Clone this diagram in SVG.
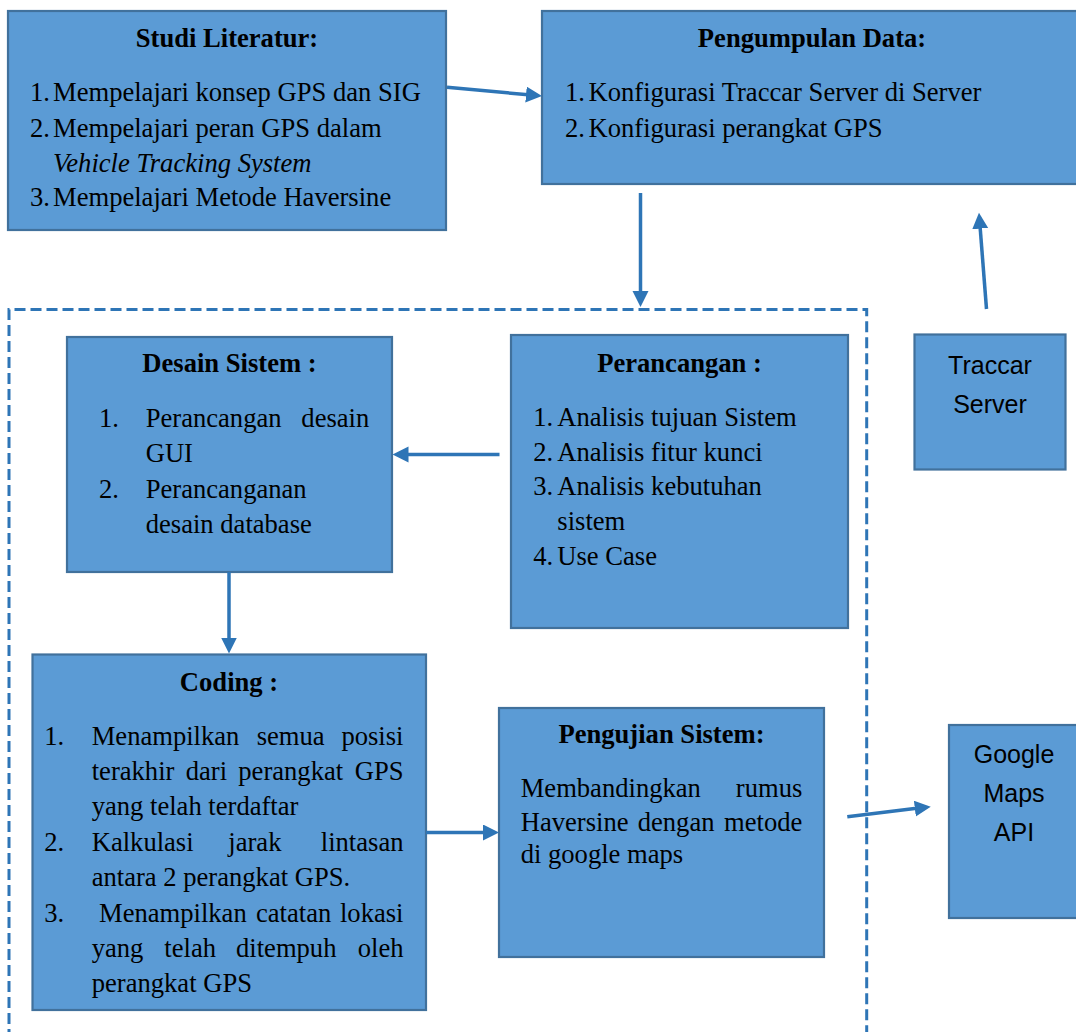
<svg xmlns="http://www.w3.org/2000/svg" width="1076" height="1032" viewBox="0 0 1076 1032">
<style>
.box{fill:#5b9bd5;stroke:#41719c;stroke-width:2.2}
.t{font-family:"Liberation Serif","Times New Roman",serif;font-size:26.6px;fill:#000}
.b{font-weight:bold}
.c{text-anchor:middle}
.e{text-anchor:end}
.s{font-family:"Liberation Sans",Arial,sans-serif;font-size:25px;fill:#000;text-anchor:middle}
.arr{stroke:#2e75b6;stroke-width:3.5;fill:none;marker-end:url(#ah)}
.dash{stroke:#2e75b6;stroke-width:3;fill:none;stroke-dasharray:11 5}
</style>
<defs>
<marker id="ah" markerUnits="userSpaceOnUse" markerWidth="17" markerHeight="17" refX="8" refY="8" orient="auto" viewBox="0 0 17 17">
<path d="M0,0 L16,8 L0,16 z" fill="#2e75b6"/>
</marker>
</defs>
<rect width="1076" height="1032" fill="#fff"/>

<g id="dashed-region">
<path class="dash" d="M9,1040 V309.5 H866.7 V1040"/>
</g>

<g id="studi-literatur">
<rect class="box" x="8" y="11" width="438" height="219"/>
<text class="t b c" x="227" y="47">Studi Literatur:</text>
<text class="t" y="100.7"><tspan x="30">1.</tspan><tspan x="53">Mempelajari konsep GPS dan SIG</tspan></text>
<text class="t" y="136.7"><tspan x="30">2.</tspan><tspan x="53">Mempelajari peran GPS dalam</tspan></text>
<text class="t" y="171.7" x="53" font-style="italic">Vehicle Tracking System</text>
<text class="t" y="205.7"><tspan x="30">3.</tspan><tspan x="53">Mempelajari Metode Haversine</tspan></text>
</g>

<g id="pengumpulan-data">
<rect class="box" x="542" y="11" width="545" height="173"/>
<text class="t b c" x="812" y="47">Pengumpulan Data:</text>
<text class="t" y="100.7"><tspan x="565">1.</tspan><tspan x="588.5">Konfigurasi Traccar Server di Server</tspan></text>
<text class="t" y="136.7"><tspan x="565">2.</tspan><tspan x="588.5">Konfigurasi perangkat GPS</tspan></text>
</g>

<g id="traccar-server">
<rect class="box" x="914.5" y="334.5" width="151" height="135"/>
<text class="s" x="990" y="374.3">Traccar</text>
<text class="s" x="990" y="412.7">Server</text>
</g>

<g id="desain-sistem">
<rect class="box" x="67" y="337" width="325" height="235"/>
<text class="t b c" x="229.5" y="371.7">Desain Sistem :</text>
<text class="t" y="426.7"><tspan x="99">1.</tspan><tspan x="145.7">Perancangan</tspan></text>
<text class="t e" x="369.3" y="426.7">desain</text>
<text class="t" x="145.7" y="461.7">GUI</text>
<text class="t" y="498.3"><tspan x="99">2.</tspan><tspan x="145.7">Perancanganan</tspan></text>
<text class="t" x="145.7" y="532.7">desain database</text>
</g>

<g id="perancangan">
<rect class="box" x="511" y="335" width="337" height="293"/>
<text class="t b c" x="679.5" y="371.7">Perancangan :</text>
<text class="t" y="426"><tspan x="533.3">1.</tspan><tspan x="557.3">Analisis tujuan Sistem</tspan></text>
<text class="t" y="460.5"><tspan x="533.3">2.</tspan><tspan x="557.3">Analisis fitur kunci</tspan></text>
<text class="t" y="495"><tspan x="533.3">3.</tspan><tspan x="557.3">Analisis kebutuhan</tspan></text>
<text class="t" x="557.3" y="530">sistem</text>
<text class="t" y="565"><tspan x="533.3">4.</tspan><tspan x="557.3">Use Case</tspan></text>
</g>

<g id="coding">
<rect class="box" x="32.5" y="654.5" width="393.5" height="355.5"/>
<text class="t b c" x="229" y="690.7">Coding :</text>
<text class="t" y="745"><tspan x="44.3">1.</tspan><tspan x="91.7">Menampilkan</tspan><tspan x="256.7">semua</tspan></text>
<text class="t e" x="403.5" y="745">posisi</text>
<text class="t" y="780"><tspan x="91.7">terakhir</tspan><tspan x="185.7">dari</tspan><tspan x="238.3">perangkat</tspan></text>
<text class="t e" x="403.5" y="780">GPS</text>
<text class="t" x="91.7" y="815">yang telah terdaftar</text>
<text class="t" y="851"><tspan x="44.3">2.</tspan><tspan x="91.7">Kalkulasi</tspan><tspan x="228.3">jarak</tspan></text>
<text class="t e" x="403.5" y="851">lintasan</text>
<text class="t" x="91.7" y="886">antara 2 perangkat GPS.</text>
<text class="t" y="921.5"><tspan x="44.3">3.</tspan><tspan x="99">Menampilkan</tspan><tspan x="256">catatan</tspan></text>
<text class="t e" x="403.5" y="921.5">lokasi</text>
<text class="t" y="956.5"><tspan x="91.7">yang</tspan><tspan x="164.3">telah</tspan><tspan x="236">ditempuh</tspan></text>
<text class="t e" x="403.5" y="956.5">oleh</text>
<text class="t" x="91.7" y="991.5">perangkat GPS</text>
</g>

<g id="pengujian-sistem">
<rect class="box" x="499" y="708" width="325" height="249"/>
<text class="t b c" x="661.5" y="743">Pengujian Sistem:</text>
<text class="t" x="520.7" y="797.3">Membandingkan</text>
<text class="t e" x="802.3" y="797.3">rumus</text>
<text class="t" y="830.5"><tspan x="520.7">Haversine</tspan><tspan x="637.7">dengan</tspan></text>
<text class="t e" x="802.3" y="830.5">metode</text>
<text class="t" x="520.7" y="863">di google maps</text>
</g>

<g id="google-maps-api">
<rect class="box" x="949" y="725" width="140" height="193"/>
<text class="s" x="1014" y="763.3">Google</text>
<text class="s" x="1014" y="801.7">Maps</text>
<text class="s" x="1014" y="840.5">API</text>
</g>

<g id="connectors">
<line class="arr" x1="447" y1="87.3" x2="534" y2="95.3"/>
<line class="arr" x1="640.5" y1="193" x2="640.5" y2="299"/>
<line class="arr" x1="986.5" y1="309" x2="979.6" y2="220.7"/>
<line class="arr" x1="499.5" y1="454.5" x2="400.5" y2="454.5"/>
<line class="arr" x1="229" y1="572" x2="229" y2="645.5"/>
<line class="arr" x1="426" y1="832.5" x2="491" y2="832.5"/>
<line class="arr" x1="847.3" y1="816.7" x2="922.8" y2="807.6"/>
</g>
</svg>
